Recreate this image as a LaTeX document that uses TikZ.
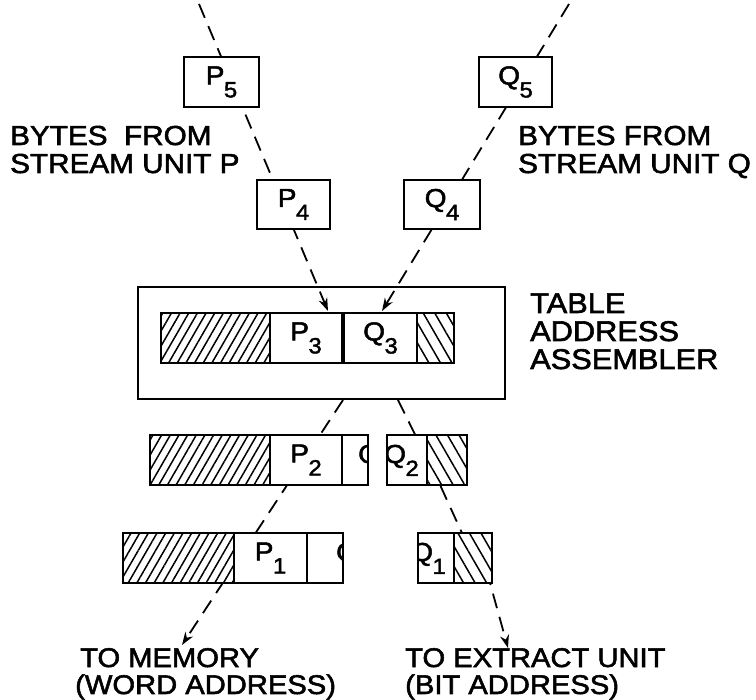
\documentclass[tikz,border=0pt]{standalone}
\usepackage{fontspec}
\setmainfont{Liberation Sans}[FakeBold=2,FakeStretch=1.08]
\usetikzlibrary{arrows.meta,patterns.meta}
\newcommand\sublab[2]{#1\kern-0.5pt\raisebox{-13pt}{\fontsize{22}{22}\selectfont #2}}
\begin{document}
\begin{tikzpicture}[x=1pt,y=-1pt,
  box/.style={draw, line width=2.3pt, fill=white, inner sep=0pt, rectangle, font=\fontsize{26}{26}\selectfont},
  lab/.style={font=\fontsize{26}{26}\selectfont, inner sep=0pt, anchor=base west},
  txt/.style={font=\fontsize{27.5}{27.5}\selectfont, anchor=base west, inner sep=0pt},
  conn/.style={line width=1.8pt, dash pattern=on 15pt off 9pt},
  tip/.style={-{Stealth[length=13pt,width=9pt]}},
  hatchL/.style={draw, line width=2.3pt, rectangle, inner sep=0pt, preaction={fill=white}, pattern={Lines[angle=60,distance=7.5pt,line width=1.5pt]}},
  hatchR/.style={draw, line width=2.3pt, rectangle, inner sep=0pt, preaction={fill=white}, pattern={Lines[angle=-60,distance=10pt,line width=1.5pt]}},
]
\useasboundingbox (0,0) rectangle (756,700);

% assembler outer box
\node[draw, line width=2.7pt, minimum width=367pt, minimum height=112pt] (asm) at (321.5,343) {};

% connectors
\coordinate (pTop) at (199,4);
\coordinate (pTip) at (328,311);
\coordinate (qTop) at (569,4);
\coordinate (qTip) at (382,311);
\coordinate (lStart) at (343,400);
\coordinate (memTip) at (182,645);
\coordinate (rStart) at (398,400);
\coordinate (r1) at (441,487);
\coordinate (r2) at (462,533);
\coordinate (r3) at (490,583);
\coordinate (bitTip) at (508,648);
\draw[conn,tip] (pTop) -- (pTip);
\draw[conn,tip] (qTop) -- (qTip);
\draw[conn,tip] (lStart) -- (memTip);
\draw[conn,tip] (rStart) -- (r1) -- (r2) -- (r3) -- (bitTip);

% incoming bytes
\node[box, minimum width=75pt, minimum height=50pt] (P5) at (221.5,82) {\sublab{P}{5}};
\node[box, minimum width=73pt, minimum height=50pt] (Q5) at (515.5,82) {\sublab{Q}{5}};
\node[box, minimum width=73pt, minimum height=49pt] (P4) at (293.5,204.5) {\sublab{P}{4}};
\node[box, minimum width=76pt, minimum height=49pt] (Q4) at (442,204.5) {\sublab{Q}{4}};

% row 3 (inside assembler)
\node[hatchL, minimum width=109pt, minimum height=50pt] (h3L) at (215.5,338) {};
\node[box, minimum width=72pt, minimum height=50pt] (P3) at (306,338) {\sublab{P}{3}};
\node[box, minimum width=73pt, minimum height=50pt] (Q3) at (380.5,338) {\sublab{Q}{3}};
\node[hatchR, minimum width=37pt, minimum height=50pt] (h3R) at (435.5,338) {};

% row 2
\node[hatchL, minimum width=120pt, minimum height=50pt] (h2L) at (210,460) {};
\node[box, minimum width=72pt, minimum height=50pt] (P2) at (306,460) {\sublab{P}{2}};
\node[box, minimum width=26pt, minimum height=50pt] (q2a) at (355,460) {};
\node[box, minimum width=40pt, minimum height=50pt] (Q2) at (407,460) {};
\node[hatchR, minimum width=40pt, minimum height=50pt] (h2R) at (447,460) {};
\begin{scope}
  \clip (343.2,436.2) rectangle (366.8,483.8);
  \node[lab] (q2aT) at (358,463) {Q};
\end{scope}
\begin{scope}
  \clip (388.2,436.2) rectangle (425.8,483.8);
  \node[lab] (Q2T) at (384,463) {\sublab{Q}{2}};
\end{scope}

% row 1
\node[hatchL, minimum width=111pt, minimum height=50pt] (h1L) at (178.5,558) {};
\node[box, minimum width=73pt, minimum height=50pt] (P1) at (270.5,558) {\sublab{P}{1}};
\node[box, minimum width=36pt, minimum height=50pt] (q1a) at (325,558) {};
\node[box, minimum width=36pt, minimum height=50pt] (Q1) at (436,558) {};
\node[hatchR, minimum width=38pt, minimum height=50pt] (h1R) at (473,558) {};
\begin{scope}
  \clip (308.2,534.2) rectangle (341.8,581.8);
  \node[lab] (q1aT) at (336,561) {Q};
\end{scope}
\begin{scope}
  \clip (419.2,534.2) rectangle (452.8,581.8);
  \node[lab] (Q1T) at (411,561) {\sublab{Q}{1}};
\end{scope}

% texts
\node[txt] (lblP1) at (10,145) {BYTES\ \ FROM};
\node[txt] (lblP2) at (10,173) {STREAM UNIT P};
\node[txt] (lblQ1) at (518,145) {BYTES FROM};
\node[txt] (lblQ2) at (518,173) {STREAM UNIT Q};
\node[txt, font=\fontsize{28.5}{28.5}\selectfont] (tab1) at (530,313) {TABLE};
\node[txt, font=\fontsize{28.5}{28.5}\selectfont] (tab2) at (530,341) {ADDRESS};
\node[txt, font=\fontsize{28.5}{28.5}\selectfont] (tab3) at (530,369) {ASSEMBLER};
\node[txt, font=\fontsize{27}{27}\selectfont] (mem1) at (80,667) {TO MEMORY};
\node[txt, font=\fontsize{27}{27}\selectfont] (mem2) at (75,694) {(WORD ADDRESS)};
\node[txt, font=\fontsize{27}{27}\selectfont] (ext1) at (405,667) {TO EXTRACT UNIT};
\node[txt, font=\fontsize{27}{27}\selectfont] (ext2) at (405,694) {(BIT ADDRESS)};
\end{tikzpicture}
\end{document}
